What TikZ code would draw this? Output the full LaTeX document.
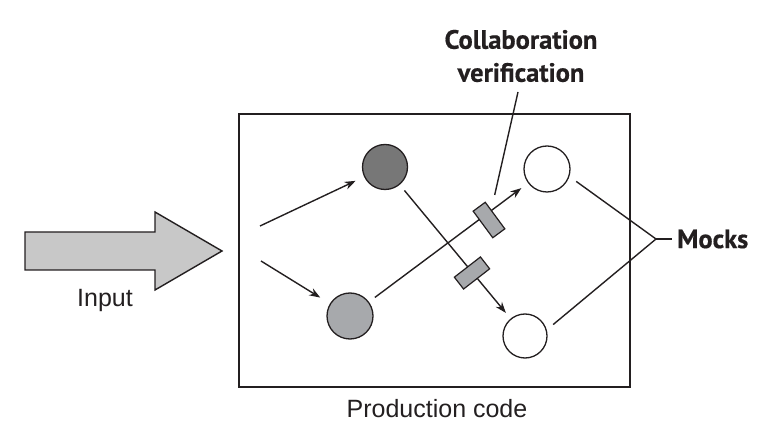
\documentclass[tikz,border=0pt]{standalone}
\usepackage{fontspec}
\setmainfont{Liberation Sans}
\newfontfamily\calloutfont[FakeBold=0.5]{PT Sans}
\usetikzlibrary{arrows.meta}
\definecolor{ink}{HTML}{231F20}
\definecolor{darkfill}{HTML}{777777}
\definecolor{midfill}{HTML}{A7A9AC}
\definecolor{lightfill}{HTML}{C8C8C8}
\begin{document}
\begin{tikzpicture}[x=1pt,y=1pt,
  ln/.style={draw=ink, line width=1.4pt},
  arr/.style={ln, -{Stealth[length=11pt,width=8pt]}},
  ball/.style={circle, draw=ink, line width=1.3pt, minimum size=#1, inner sep=0pt, outer sep=0pt},
  marker/.style={draw=ink, fill=midfill, line width=1.2pt, minimum width=15pt, minimum height=33pt, inner sep=0pt},
  callout/.style={font=\calloutfont\bfseries\fontsize{26.5}{33}\selectfont, text=ink, align=center},
  plain/.style={font=\fontsize{25}{29}\selectfont, text=ink}]

\useasboundingbox (0,0) rectangle (784,447);

\node[draw=ink, line width=1.3pt, minimum width=391pt, minimum height=273pt, inner sep=0pt] (prod) at (434.5,196.5) {};
\node[plain] (prodlabel) at (437,38) {Production code};

\draw[ln, fill=lightfill, line join=miter] (25,215) -- (155,215) -- (155,235) -- (222,196) -- (155,157) -- (155,177) -- (25,177) -- cycle;
\node[plain] (input) at (105,147) {Input};

\node[ball=45pt, fill=darkfill] (d) at (385,280) {};
\node[ball=46pt, fill=midfill] (l) at (350,131) {};
\node[ball=46pt, fill=white] (m1) at (547,278) {};
\node[ball=44pt, fill=white] (m2) at (525,111) {};

\coordinate (s1) at (260,221);
\coordinate (s2) at (261,186);
\draw[arr, shorten >=10pt] (s1) -- (d);
\draw[arr, shorten >=12pt] (s2) -- (l);
\draw[arr, shorten <=8pt, shorten >=9pt] (l) -- (m1);
\draw[arr, shorten <=8pt, shorten >=8pt] (d) -- (m2);
\node[marker, rotate=36.4] (r1) at (489,227) {};
\node[marker, rotate=-52.2] (r2) at (472,174) {};

\node[callout] (cv) at (521,391) {Collaboration\\verification};
\coordinate (cvA) at (518,355);
\draw[ln, shorten >=15pt] (cvA) -- (r1);

\coordinate (mj) at (656,208);
\node[callout, anchor=west, inner sep=0pt] (mocks) at (677,208) {Mocks};
\draw[ln, shorten <=9pt] (m1.-18) -- (mj);
\draw[ln, shorten <=9pt] (m2.15) -- (mj);
\draw[ln, shorten >=5pt] (mj) -- (mocks.west);
\end{tikzpicture}
\end{document}
